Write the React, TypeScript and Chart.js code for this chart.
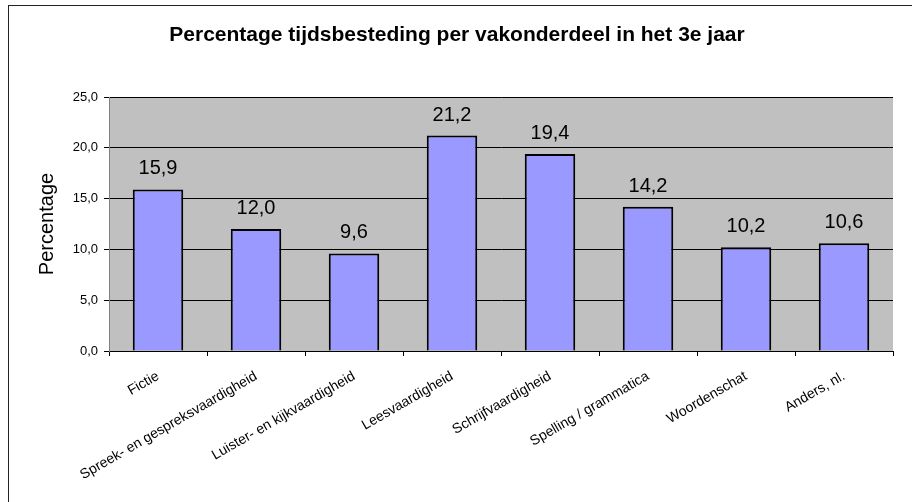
import React, { useEffect, useRef } from "react";
import { Chart, registerables } from "chart.js";

Chart.register(...registerables);

const titleText = "Percentage tijdsbesteding per vakonderdeel in het 3e jaar";
const yAxisTitle = "Percentage";
const categories = [
  "Fictie",
  "Spreek- en gespreksvaardigheid",
  "Luister- en kijkvaardigheid",
  "Leesvaardigheid",
  "Schrijfvaardigheid",
  "Spelling / grammatica",
  "Woordenschat",
  "Anders, nl.",
];
const values = [15.9, 12.0, 9.6, 21.2, 19.4, 14.2, 10.2, 10.6];
const yMin = 0;
const yMax = 25;
const yStep = 5;

const fmt = (v: number) => v.toFixed(1).replace(".", ",");

const FONT = '"Liberation Sans", Arial, sans-serif';

const plotBg = {
  id: "plotBg",
  beforeDraw(chart: any) {
    const { ctx, chartArea } = chart;
    ctx.save();
    ctx.fillStyle = "#C0C0C0";
    ctx.fillRect(chartArea.left, chartArea.top, chartArea.right - chartArea.left, chartArea.bottom - chartArea.top);
    ctx.restore();
  },
};

const barLabels = {
  id: "barLabels",
  afterDatasetsDraw(chart: any) {
    const { ctx } = chart;
    const meta = chart.getDatasetMeta(0);
    ctx.save();
    ctx.font = `20px ${FONT}`;
    ctx.fillStyle = "#000";
    ctx.textAlign = "center";
    ctx.textBaseline = "alphabetic";
    meta.data.forEach((el: any, i: number) => {
      ctx.fillText(fmt(values[i]), el.x, el.y - 15);
    });
    ctx.restore();
  },
};

export default function App() {
  const ref = useRef<HTMLCanvasElement | null>(null);
  useEffect(() => {
    if (!ref.current) return;
    Chart.defaults.font.family = FONT;
    Chart.defaults.color = "#000";
    const chart = new Chart(ref.current, {
      type: "bar",
      data: {
        labels: categories,
        datasets: [
          {
            data: values,
            backgroundColor: "#9999FF",
            borderColor: "#000",
            borderWidth: 2,
            barPercentage: 0.515,
            categoryPercentage: 1,
          },
        ],
      },
      options: {
        responsive: false,
        animation: false,
        layout: { padding: { left: 21, right: 19, top: 0, bottom: 0 } },
        plugins: {
          legend: { display: false },
          tooltip: { enabled: false },
          title: {
            display: true,
            text: titleText,
            color: "#000",
            font: { family: FONT, size: 21, weight: "bold", lineHeight: 1.2 },
            padding: { top: 23, bottom: 48.8 },
          },
        },
        scales: {
          x: {
            afterFit: (s: any) => {
              s.height = 151;
            },
            grid: {
              offset: true,
              drawOnChartArea: false,
              drawTicks: true,
              tickLength: 5,
              color: "#000",
            },
            border: { color: "#000", width: 1 },
            ticks: {
              autoSkip: false,
              minRotation: 30,
              maxRotation: 30,
              padding: 12,
              font: { family: FONT, size: 14 },
              color: "#000",
            },
          },
          y: {
            min: yMin,
            max: yMax,
            afterFit: (s: any) => {
              s.width = 88;
            },
            grid: { color: "#000", lineWidth: 1, drawTicks: true, tickLength: 5 },
            border: { color: "#808080", width: 1 },
            ticks: {
              stepSize: yStep,
              padding: 6,
              font: { family: FONT, size: 13 },
              color: "#000",
              callback: (v: any) => fmt(Number(v)),
            },
            title: {
              display: true,
              text: yAxisTitle,
              color: "#000",
              font: { family: FONT, size: 20, lineHeight: 1.2 },
              padding: { top: 14, bottom: 0 },
            },
          },
        },
      },
      plugins: [plotBg, barLabels],
    } as any);
    return () => chart.destroy();
  }, []);

  return (
    <div
      style={{
        position: "fixed",
        left: 0,
        top: 0,
        width: 912,
        height: 502,
        overflow: "hidden",
        background: "#fff",
      }}
    >
      <canvas ref={ref} width={912} height={502} style={{ position: "absolute", left: 0, top: 0 }} />
      <div
        style={{
          position: "absolute",
          left: 8,
          top: 5,
          width: 1200,
          height: 800,
          borderTop: "1px solid #222",
          borderLeft: "1px solid #222",
          pointerEvents: "none",
        }}
      />
    </div>
  );
}
